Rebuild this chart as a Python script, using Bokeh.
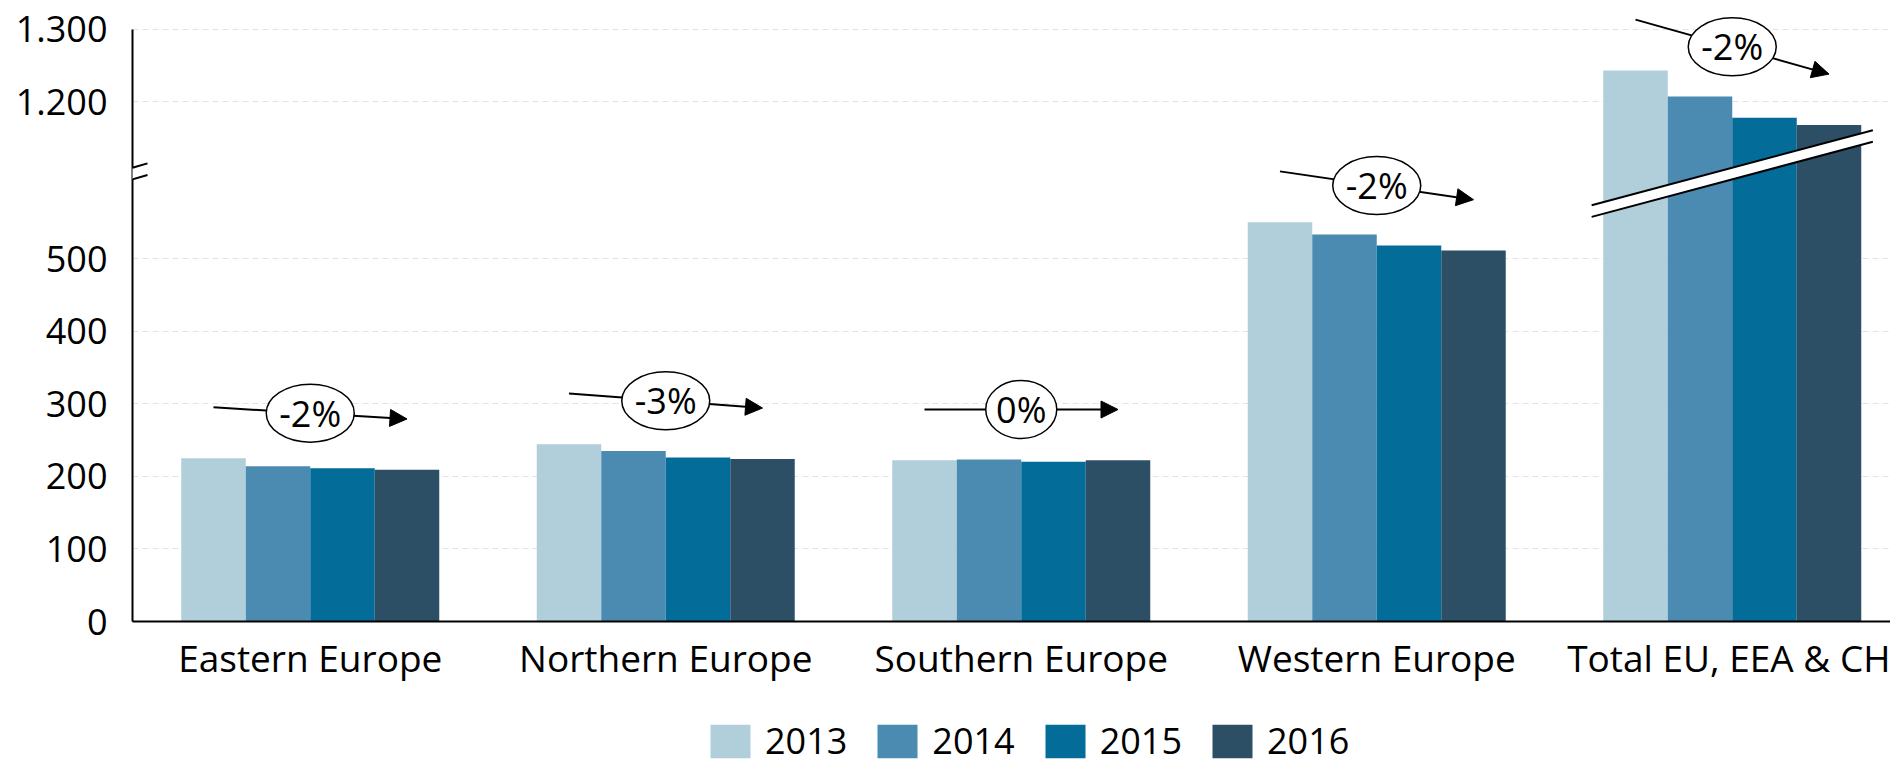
from bokeh.plotting import figure
from bokeh.layouts import column
from bokeh.models import Range1d, FixedTicker, Arrow, NormalHead, PolyAnnotation, ColumnDataSource, Legend
from bokeh.core.properties import value
from bokeh.embed import file_html
from bokeh.resources import INLINE

# ---------------- data ----------------
categories = ["Eastern Europe", "Northern Europe", "Southern Europe", "Western Europe", "Total EU, EEA & CH"]
years = ["2013", "2014", "2015", "2016"]
v2013 = [225, 244, 222, 550, 1243]
v2014 = [214, 235, 223, 533, 1207]
v2015 = [211, 226, 220, 518, 1178]
v2016 = [209, 224, 222, 511, 1168]
trend_labels = ["-2%", "-3%", "0%", "-2%", "-2%"]
y_tick_values = [0, 100, 200, 300, 400, 500, 1200, 1300]
y_tick_labels = ["0", "100", "200", "300", "400", "500", "1.200", "1.300"]

# ---------------- style ----------------
colors = ["#B0CFDB", "#4B8BB2", "#036C98", "#2C4F66"]
FONT = "Open Sans"
AXIS_OFFSET = 484      # values above the axis break are shifted down by this amount
BREAK_LIMIT = 700      # values above this are drawn on the upper (broken) segment
BREAK_AT = 617         # display position of the break marks
BREAK_GAP = 16
PX_PER_UNIT = 0.726
CAT_PX = 355.5
ARROW_LIFT = 70


def disp(v):
    return v - AXIS_OFFSET if v > BREAK_LIMIT else v


W = 1890
H_MAIN, H_LEG = 700, 65
LEFT, FRAME_BOTTOM = 132, 621
frame_w = W - LEFT

p = figure(width=W, height=H_MAIN, output_backend="svg", toolbar_location=None,
           x_range=Range1d(0, frame_w / CAT_PX), y_range=Range1d(0, FRAME_BOTTOM / PX_PER_UNIT),
           min_border_left=LEFT, min_border_right=0, min_border_top=0,
           min_border_bottom=H_MAIN - FRAME_BOTTOM)
p.outline_line_color = None
p.background_fill_color = "white"

bar_w = 64.5 / CAT_PX
series = [v2013, v2014, v2015, v2016]
for j, (yr, vals, col) in enumerate(zip(years, series, colors)):
    xs = [i + 0.5 + (j - 1.5) * bar_w for i in range(len(categories))]
    src = ColumnDataSource(dict(x=xs, top=[disp(v) for v in vals]))
    p.vbar(x="x", top="top", bottom=0, width=bar_w, source=src,
           fill_color=col, line_color=None)

# break band across bars that exceed the break
hx, hy = 0.3955, 51.7
for i in range(len(categories)):
    if max(s[i] for s in series) > BREAK_LIMIT:
        cx = i + 0.5
        up = (BREAK_AT + BREAK_GAP / 2 - hy, BREAK_AT + BREAK_GAP / 2 + hy)
        lo = (BREAK_AT - BREAK_GAP / 2 - hy, BREAK_AT - BREAK_GAP / 2 + hy)
        p.patch([cx - hx, cx + hx, cx + hx, cx - hx], [up[0], up[1], lo[1], lo[0]],
                fill_color="white", line_color=None)
        p.line([cx - hx, cx + hx], list(up), line_color="black", line_width=2)
        p.line([cx - hx, cx + hx], list(lo), line_color="black", line_width=2)

# trend arrows with ellipse labels
mx, my, widths = [], [], []
for i in range(len(categories)):
    x0 = i + 0.5 - 1.5 * bar_w
    x1 = i + 0.5 + 1.5 * bar_w
    y0 = disp(v2013[i]) + ARROW_LIFT
    y1 = disp(v2016[i]) + ARROW_LIFT
    arr = Arrow(x_start=x0, y_start=y0, x_end=x1, y_end=y1, line_width=2, line_color="black",
                end=NormalHead(size=17, fill_color="black", line_color="black"), level="underlay")
    p.add_layout(arr)
    mx.append((x0 + x1) / 2)
    my.append((y0 + y1) / 2)
    widths.append(17 * len(trend_labels[i]) + 37)

lsrc = ColumnDataSource(dict(x=mx, y=my, w=widths, t=trend_labels))
p.ellipse(x="x", y="y", width="w", height=58, width_units="screen", height_units="screen",
          source=lsrc, fill_color="white", line_color="black", line_width=1.5)
p.text(x="x", y="y", text="t", source=lsrc, text_align="center", text_baseline="middle",
       text_font=value(FONT), text_font_size="36px", text_color="black")

# axes
p.yaxis.ticker = FixedTicker(ticks=[disp(v) for v in y_tick_values])
p.yaxis.major_label_overrides = {disp(v): lab for v, lab in zip(y_tick_values, y_tick_labels)}
p.yaxis.bounds = (0, disp(y_tick_values[-1]))
p.yaxis.axis_line_width = 2
p.yaxis.axis_line_color = "black"
p.yaxis.major_tick_line_color = None
p.yaxis.minor_tick_line_color = None
p.yaxis.major_tick_out = 0
p.yaxis.major_tick_in = 0
p.yaxis.major_label_standoff = 25
p.yaxis.major_label_text_font = FONT
p.yaxis.major_label_text_font_size = "36px"
p.yaxis.major_label_text_color = "black"

p.xaxis.ticker = FixedTicker(ticks=[i + 0.5 for i in range(len(categories))])
p.xaxis.major_label_overrides = {i + 0.5: c for i, c in enumerate(categories)}
p.xaxis.axis_line_width = 2
p.xaxis.axis_line_color = "black"
p.xaxis.major_tick_line_color = None
p.xaxis.minor_tick_line_color = None
p.xaxis.major_tick_out = 0
p.xaxis.major_tick_in = 0
p.xaxis.major_label_standoff = 10
p.xaxis.major_label_text_font = FONT
p.xaxis.major_label_text_font_size = "37px"
p.xaxis.major_label_text_color = "black"

p.xgrid.visible = False
p.ygrid.ticker = FixedTicker(ticks=[disp(v) for v in y_tick_values if v > 0])
p.ygrid.grid_line_color = "#E3E3E3"
p.ygrid.grid_line_dash = "6 4"
p.ygrid.grid_line_width = 1

# y-axis break marks
ax_hx = 15 / CAT_PX
ax_hy = 6
ya_up = (BREAK_AT + BREAK_GAP / 2 - ax_hy, BREAK_AT + BREAK_GAP / 2 + ax_hy)
ya_lo = (BREAK_AT - BREAK_GAP / 2 - ax_hy, BREAK_AT - BREAK_GAP / 2 + ax_hy)
p.add_layout(PolyAnnotation(xs=[-ax_hx, ax_hx, ax_hx, -ax_hx], ys=[ya_up[0], ya_up[1], ya_lo[1], ya_lo[0]],
                            fill_color="white", fill_alpha=1, line_color=None, level="overlay"))
for seg in (ya_up, ya_lo):
    p.add_layout(Arrow(x_start=-ax_hx, y_start=seg[0], x_end=ax_hx, y_end=seg[1], end=None,
                       line_width=2, line_color="black", level="overlay"))

# legend strip underneath (swatch renderers sit outside the visible range)
pl = figure(width=W, height=H_LEG, output_backend="svg", toolbar_location=None,
            x_range=Range1d(0, 1), y_range=Range1d(0, 1),
            x_axis_location=None, y_axis_location=None,
            min_border_left=0, min_border_right=0, min_border_top=0, min_border_bottom=0)
pl.outline_line_color = None
pl.xgrid.visible = False
pl.ygrid.visible = False
legend_items = []
for yr, col in zip(years, colors):
    r = pl.vbar(x=[-10], top=[-10], bottom=[-11], width=1, fill_color=col, line_color=None)
    legend_items.append((yr, [r]))
leg = Legend(items=legend_items, location=(573, 0), orientation="horizontal",
             glyph_width=50, glyph_height=42, label_height=42,
             label_text_font=FONT, label_text_font_size="36px", label_text_color="black",
             label_standoff=10, spacing=25, padding=0, margin=0,
             border_line_color=None, background_fill_alpha=0)
pl.add_layout(leg, "center")

layout = column(p, pl, spacing=0)
open("out.html", "w").write(file_html(layout, INLINE))
